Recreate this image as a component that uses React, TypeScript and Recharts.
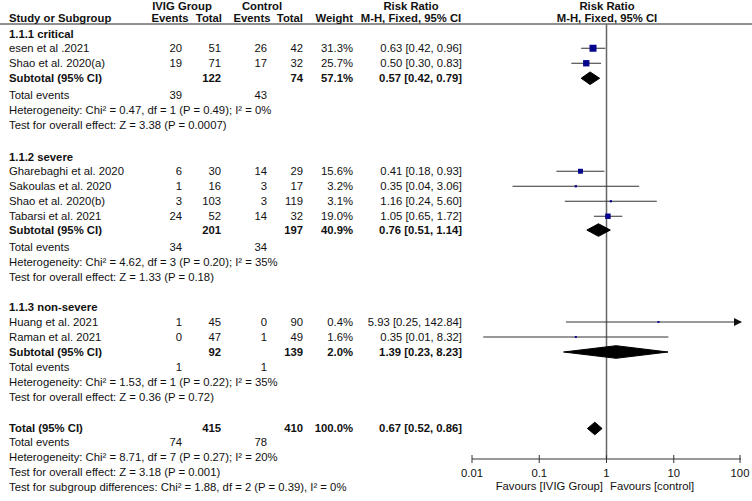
import {
  ComposedChart,
  XAxis,
  YAxis,
  Scatter,
  ReferenceLine,
  ReferenceDot,
  Customized,
} from "recharts";

// studies (row = table line, counted from the top header line)
const studies = [
  "esen et al .2021",
  "Shao et al. 2020(a)",
  "Gharebaghi et al. 2020",
  "Sakoulas et al. 2020",
  "Shao et al. 2020(b)",
  "Tabarsi et al. 2021",
  "Huang et al. 2021",
  "Raman et al. 2021",
];
const studyRows = [2.75, 3.75, 10.95, 11.95, 12.95, 13.95, 21, 22];
const ivigEvents = [20, 19, 6, 1, 3, 24, 1, 0];
const ivigTotal = [51, 71, 30, 16, 103, 52, 45, 47];
const ctrlEvents = [26, 17, 14, 3, 3, 14, 0, 1];
const ctrlTotal = [42, 32, 29, 17, 119, 32, 90, 49];
const weights = [31.3, 25.7, 15.6, 3.2, 3.1, 19.0, 0.4, 1.6];
const rr = [0.63, 0.5, 0.41, 0.35, 1.16, 1.05, 5.93, 0.35];
const rrLow = [0.42, 0.3, 0.18, 0.04, 0.24, 0.65, 0.25, 0.0147];
const rrHigh = [0.96, 0.83, 0.93, 3.06, 5.6, 1.72, 142.84, 8.32];

// subgroups + overall total (last entry)
const groupTitles = ["1.1.1 critical", "1.1.2 severe", "1.1.3 non-severe"];
const groupRows = [1.8, 10, 20];
const sumLabels = ["Subtotal (95% CI)", "Subtotal (95% CI)", "Subtotal (95% CI)", "Total (95% CI)"];
const sumRows = [4.75, 14.87, 23, 28.1];
const eventRows = [5.9, 16, 24, 29];
const sumIvigTotal = [122, 201, 92, 415];
const sumCtrlTotal = [74, 197, 139, 410];
const sumWeight = [57.1, 40.9, 2.0, 100.0];
const sumRR = [0.57, 0.76, 1.39, 0.67];
const sumLow = [0.42, 0.51, 0.23, 0.52];
const sumHigh = [0.79, 1.14, 8.23, 0.86];
const sumIvigEvents = [39, 34, 1, 74];
const sumCtrlEvents = [43, 34, 1, 78];
const heterogeneity = [
  "Heterogeneity: Chi² = 0.47, df = 1 (P = 0.49); I² = 0%",
  "Heterogeneity: Chi² = 4.62, df = 3 (P = 0.20); I² = 35%",
  "Heterogeneity: Chi² = 1.53, df = 1 (P = 0.22); I² = 35%",
  "Heterogeneity: Chi² = 8.71, df = 7 (P = 0.27); I² = 20%",
];
const overallEffect = [
  "Test for overall effect: Z = 3.38 (P = 0.0007)",
  "Test for overall effect: Z = 1.33 (P = 0.18)",
  "Test for overall effect: Z = 0.36 (P = 0.72)",
  "Test for overall effect: Z = 3.18 (P = 0.001)",
];
const subgroupDiff = "Test for subgroup differences: Chi² = 1.88, df = 2 (P = 0.39), I² = 0%";
const xTicks = [0.01, 0.1, 1, 10, 100];
const xMax = 100;

const FONT = "'Liberation Sans', Arial, sans-serif";
const FS = 11.3;
const INK = "#111";
const rowY = (r: number) => 7 + 15 * r;

const fmt = (v: number) => v.toFixed(2);
const ciText = (e: number, lo: number, hi: number) => `${fmt(e)} [${fmt(lo)}, ${fmt(hi)}]`;

function Txt({ x, y, anchor = "start", bold = false, children }: any) {
  return (
    <text
      x={x}
      y={y}
      dy="0.35em"
      textAnchor={anchor}
      fontFamily={FONT}
      fontSize={FS}
      fontWeight={bold ? 700 : 400}
      fill={INK}
    >
      {children}
    </text>
  );
}

function TableText() {
  const C = { study: 9, ie: 182, it: 221, ce: 267, ct: 303, w: 353, ci: 462 };
  return (
    <g>
      {/* header */}
      <Txt x={182} y={6} anchor="middle" bold>IVIG Group</Txt>
      <Txt x={262} y={6} anchor="middle" bold>Control</Txt>
      <Txt x={411} y={6} anchor="middle" bold>Risk Ratio</Txt>
      <Txt x={607} y={6} anchor="middle" bold>Risk Ratio</Txt>
      <Txt x={C.study} y={18} bold>Study or Subgroup</Txt>
      <Txt x={170} y={18} anchor="middle" bold>Events</Txt>
      <Txt x={222} y={18} anchor="end" bold>Total</Txt>
      <Txt x={252} y={18} anchor="middle" bold>Events</Txt>
      <Txt x={C.ct} y={18} anchor="end" bold>Total</Txt>
      <Txt x={C.w} y={18} anchor="end" bold>Weight</Txt>
      <Txt x={411} y={18} anchor="middle" bold>M-H, Fixed, 95% CI</Txt>
      <Txt x={607} y={18} anchor="middle" bold>M-H, Fixed, 95% CI</Txt>
      <line x1={0} x2={752} y1={24} y2={24} stroke="#222" strokeWidth={1} />

      {groupTitles.map((t, i) => (
        <Txt key={"g" + i} x={C.study} y={rowY(groupRows[i])} bold>{t}</Txt>
      ))}

      {studies.map((s, i) => {
        const y = rowY(studyRows[i]);
        return (
          <g key={"s" + i}>
            <Txt x={C.study} y={y}>{s}</Txt>
            <Txt x={C.ie} y={y} anchor="end">{ivigEvents[i]}</Txt>
            <Txt x={C.it} y={y} anchor="end">{ivigTotal[i]}</Txt>
            <Txt x={C.ce} y={y} anchor="end">{ctrlEvents[i]}</Txt>
            <Txt x={C.ct} y={y} anchor="end">{ctrlTotal[i]}</Txt>
            <Txt x={C.w} y={y} anchor="end">{weights[i].toFixed(1)}%</Txt>
            <Txt x={C.ci} y={y} anchor="end">{ciText(rr[i], rrLow[i], rrHigh[i])}</Txt>
          </g>
        );
      })}

      {sumLabels.map((s, i) => {
        const r = sumRows[i];
        const e = eventRows[i];
        return (
          <g key={"t" + i}>
            <Txt x={C.study} y={rowY(r)} bold>{s}</Txt>
            <Txt x={C.it} y={rowY(r)} anchor="end" bold>{sumIvigTotal[i]}</Txt>
            <Txt x={C.ct} y={rowY(r)} anchor="end" bold>{sumCtrlTotal[i]}</Txt>
            <Txt x={C.w} y={rowY(r)} anchor="end" bold>{sumWeight[i].toFixed(1)}%</Txt>
            <Txt x={C.ci} y={rowY(r)} anchor="end" bold>{ciText(sumRR[i], sumLow[i], sumHigh[i])}</Txt>
            <Txt x={C.study} y={rowY(e)}>Total events</Txt>
            <Txt x={C.ie} y={rowY(e)} anchor="end">{sumIvigEvents[i]}</Txt>
            <Txt x={C.ce} y={rowY(e)} anchor="end">{sumCtrlEvents[i]}</Txt>
            <Txt x={C.study} y={rowY(e + 1)}>{heterogeneity[i]}</Txt>
            <Txt x={C.study} y={rowY(e + 2)}>{overallEffect[i]}</Txt>
          </g>
        );
      })}
      <Txt x={C.study} y={rowY(32)}>{subgroupDiff}</Txt>

      <Txt x={603} y={486} anchor="end">Favours [IVIG Group]</Txt>
      <Txt x={610} y={486}>Favours [control]</Txt>
    </g>
  );
}

const squares = studies.map((_, i) => ({ x: rr[i], y: studyRows[i], w: weights[i] }));

// diamond outline: low -> top -> high -> bottom -> low
const diamonds = sumRows.map((r, i) => [
  { x: sumLow[i], y: r },
  { x: sumRR[i], y: r - 0.42 },
  { x: sumHigh[i], y: r },
  { x: sumRR[i], y: r + 0.42 },
  { x: sumLow[i], y: r },
]);

const Square = (p: any) => {
  const s = Math.max(2, 1.25 * Math.sqrt(p.payload.w));
  return <rect x={p.cx - s / 2} y={p.cy - s / 2} width={s} height={s} fill="#06068c" />;
};

// tick that crosses the axis line, label below
const AxisTick = (p: any) => (
  <g>
    <line x1={p.x} x2={p.x} y1={p.y - 12} y2={p.y - 4} stroke="#333" />
    <text x={p.x} y={p.y + 6} dy="0.35em" textAnchor="middle" fontFamily={FONT} fontSize={FS} fill={INK}>
      {String(p.payload.value)}
    </text>
  </g>
);

export default function App() {
  return (
    <div style={{ position: "absolute", left: 0, top: 0, background: "#fff" }}>
      <ComposedChart width={752} height={501} margin={{ top: 24, right: 11, bottom: 0, left: 472 }}>
        <XAxis
          dataKey="x"
          type="number"
          scale="log"
          domain={[0.01, 100]}
          ticks={xTicks}
          allowDataOverflow
          height={42}
          tickSize={0}
          tickMargin={8}
          tickLine={false}
          stroke="#333"
          tick={AxisTick}
        />
        <YAxis dataKey="y" type="number" domain={[17 / 15, 452 / 15]} reversed hide allowDataOverflow />
        <ReferenceLine x={1} stroke="#666" strokeWidth={1.5} />
        {studies.map((_, i) => (
          <ReferenceLine
            key={"ci" + i}
            ifOverflow="visible"
            segment={[
              { x: rrLow[i], y: studyRows[i] },
              { x: Math.min(rrHigh[i], xMax), y: studyRows[i] },
            ]}
            stroke="#333"
            strokeWidth={1}
          />
        ))}
        {studies.map((_, i) =>
          rrHigh[i] > xMax ? (
            <ReferenceDot
              key={"ar" + i}
              x={xMax}
              y={studyRows[i]}
              ifOverflow="visible"
              shape={(p: any) => (
                <path d={`M${p.cx + 1},${p.cy} l-8,-4 l0,8 z`} fill="#111" />
              )}
            />
          ) : null
        )}
        <Scatter data={squares} dataKey="y" shape={Square} isAnimationActive={false} />
        {diamonds.map((d, i) => (
          <Scatter
            key={"d" + i}
            data={d}
            dataKey="y"
            shape={() => <g />}
            line={{ stroke: "#000", fill: "#000", strokeWidth: 1 }}
            lineJointType="linear"
            isAnimationActive={false}
          />
        ))}
        <Customized component={TableText} />
      </ComposedChart>
    </div>
  );
}
